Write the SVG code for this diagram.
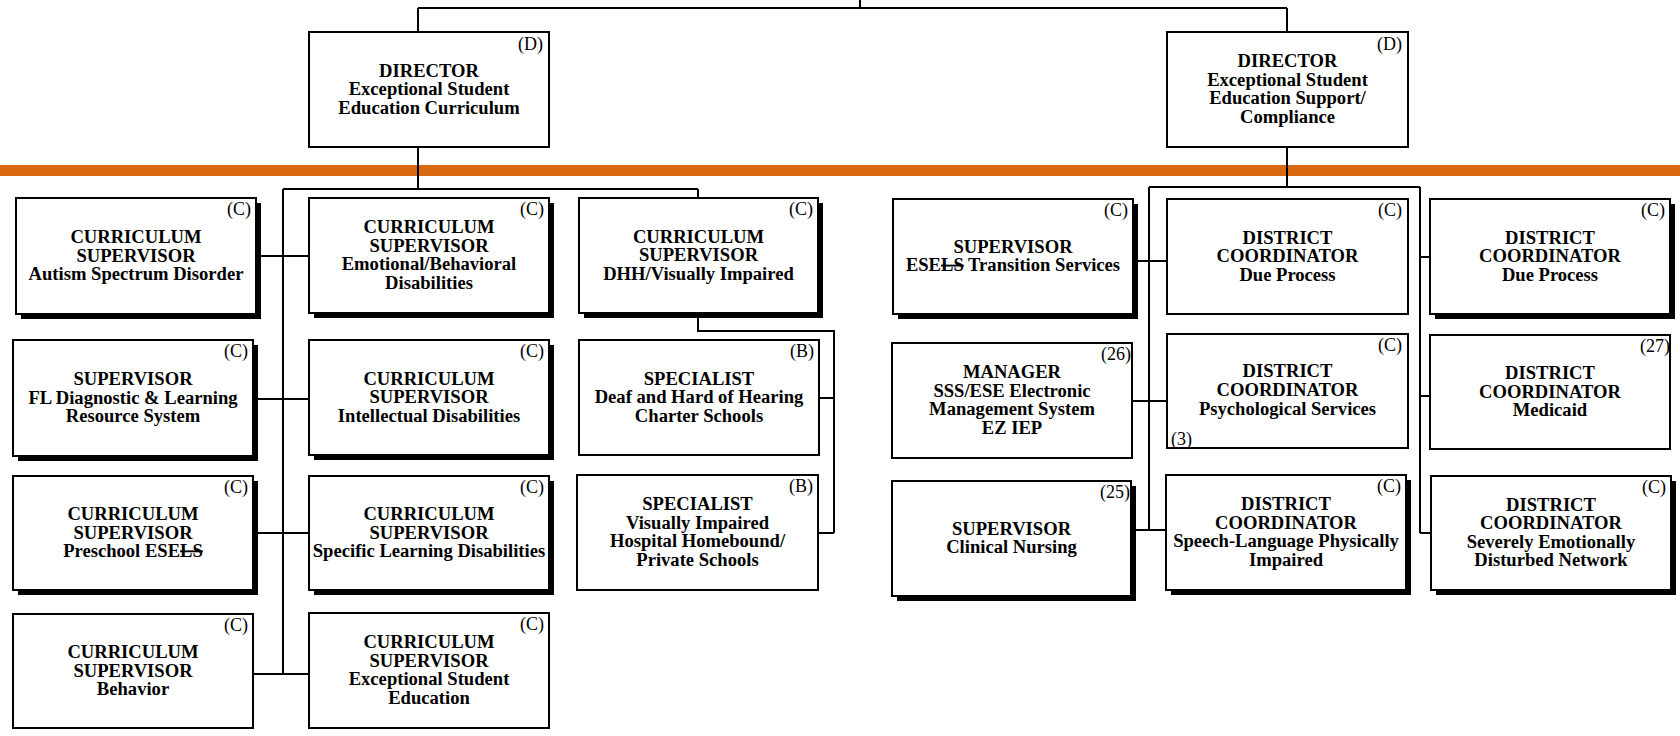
<svg xmlns="http://www.w3.org/2000/svg" width="1680" height="736" viewBox="0 0 1680 736">
<style>
.box{fill:#fff;stroke:#000;stroke-width:2}
.sh{fill:#000}
.t{font-family:"Liberation Serif","Times New Roman",serif;font-weight:bold;font-size:18.6px;text-anchor:middle;fill:#000}
.lab{font-family:"Liberation Serif","Times New Roman",serif;font-size:18px;text-anchor:end;fill:#000}
.labl{font-family:"Liberation Serif","Times New Roman",serif;font-size:18px;text-anchor:start;fill:#000}
.c{stroke:#000;stroke-width:2;fill:none}
.st{text-decoration:line-through}
</style>
<rect x="0" y="0" width="1680" height="736" fill="#fff"/>
<rect id="band" x="0" y="165" width="1680" height="11" fill="#D96A11"/>

<g id="connectors">
<path class="c" d="M860,0 V8 M418,8 H1287 M418,8 V32 M1287,8 V32"/>
<path class="c" d="M418,147 V189 M283,189 H698 M283,189 V674 M698,189 V198"/>
<path class="c" d="M256,256 H309 M253,399 H309 M253,533 H309 M253,674 H309"/>
<path class="c" d="M698,313 V331 H834 V533 M819,398 H834 M818,533 H834"/>
<path class="c" d="M1287,147 V187 M1149,187 H1420 M1149,187 V530 M1420,187 V533"/>
<path class="c" d="M1133,261 H1167 M1132,401 H1167 M1131,530 H1166"/>
<path class="c" d="M1420,257 H1430 M1420,396 H1430 M1420,533 H1431"/>
</g>

<g id="dir-left">
<rect class="box" x="309" y="32" width="240" height="115"/>
<text class="lab" x="543" y="50">(D)</text>
<text class="t"><tspan x="429" y="76.5">DIRECTOR</tspan><tspan x="429" y="95">Exceptional Student</tspan><tspan x="429" y="113.5">Education Curriculum</tspan></text>
</g>
<g id="dir-right">
<rect class="box" x="1167" y="32" width="241" height="115"/>
<text class="lab" x="1402" y="50">(D)</text>
<text class="t"><tspan x="1287.5" y="67.25">DIRECTOR</tspan><tspan x="1287.5" y="85.75">Exceptional Student</tspan><tspan x="1287.5" y="104.25">Education Support/</tspan><tspan x="1287.5" y="122.75">Compliance</tspan></text>
</g>

<g id="autism">
<rect class="sh" x="21" y="203" width="240" height="116"/>
<rect class="box" x="16" y="198" width="240" height="116"/>
<text class="lab" x="251" y="214.5">(C)</text>
<text class="t"><tspan x="136" y="243">CURRICULUM</tspan><tspan x="136" y="261.5">SUPERVISOR</tspan><tspan x="136" y="280">Autism Spectrum Disorder</tspan></text>
</g>
<g id="fldlrs">
<rect class="sh" x="18" y="345" width="240" height="116"/>
<rect class="box" x="13" y="340" width="240" height="116"/>
<text class="lab" x="248" y="356.5">(C)</text>
<text class="t"><tspan x="133" y="385">SUPERVISOR</tspan><tspan x="133" y="403.5">FL Diagnostic &amp; Learning</tspan><tspan x="133" y="422">Resource System</tspan></text>
</g>
<g id="preschool">
<rect class="sh" x="18" y="481" width="240" height="114"/>
<rect class="box" x="13" y="476" width="240" height="114"/>
<text class="lab" x="248" y="492.5">(C)</text>
<text class="t"><tspan x="133" y="520">CURRICULUM</tspan><tspan x="133" y="538.5">SUPERVISOR</tspan><tspan x="133" y="557">Preschool ESE<tspan class="st">LS</tspan></tspan></text>
</g>
<g id="behavior">
<rect class="box" x="13" y="614" width="240" height="114"/>
<text class="lab" x="248" y="630.5">(C)</text>
<text class="t"><tspan x="133" y="658">CURRICULUM</tspan><tspan x="133" y="676.5">SUPERVISOR</tspan><tspan x="133" y="695">Behavior</tspan></text>
</g>

<g id="emotional">
<rect class="sh" x="314" y="203" width="240" height="115"/>
<rect class="box" x="309" y="198" width="240" height="115"/>
<text class="lab" x="544" y="214.5">(C)</text>
<text class="t"><tspan x="429" y="233.25">CURRICULUM</tspan><tspan x="429" y="251.75">SUPERVISOR</tspan><tspan x="429" y="270.25">Emotional/Behavioral</tspan><tspan x="429" y="288.75">Disabilities</tspan></text>
</g>
<g id="intellectual">
<rect class="sh" x="314" y="345" width="240" height="115"/>
<rect class="box" x="309" y="340" width="240" height="115"/>
<text class="lab" x="544" y="356.5">(C)</text>
<text class="t"><tspan x="429" y="384.5">CURRICULUM</tspan><tspan x="429" y="403">SUPERVISOR</tspan><tspan x="429" y="421.5">Intellectual Disabilities</tspan></text>
</g>
<g id="sld">
<rect class="sh" x="314" y="481" width="240" height="114"/>
<rect class="box" x="309" y="476" width="240" height="114"/>
<text class="lab" x="544" y="492.5">(C)</text>
<text class="t"><tspan x="429" y="520">CURRICULUM</tspan><tspan x="429" y="538.5">SUPERVISOR</tspan><tspan x="429" y="557">Specific Learning Disabilities</tspan></text>
</g>
<g id="ese">
<rect class="box" x="309" y="613" width="240" height="115"/>
<text class="lab" x="544" y="629.5">(C)</text>
<text class="t"><tspan x="429" y="648.25">CURRICULUM</tspan><tspan x="429" y="666.75">SUPERVISOR</tspan><tspan x="429" y="685.25">Exceptional Student</tspan><tspan x="429" y="703.75">Education</tspan></text>
</g>

<g id="dhh">
<rect class="sh" x="584" y="203" width="239" height="115"/>
<rect class="box" x="579" y="198" width="239" height="115"/>
<text class="lab" x="813" y="214.5">(C)</text>
<text class="t"><tspan x="698.5" y="242.5">CURRICULUM</tspan><tspan x="698.5" y="261">SUPERVISOR</tspan><tspan x="698.5" y="279.5">DHH/Visually Impaired</tspan></text>
</g>
<g id="spec-dhh">
<rect class="box" x="579" y="340" width="240" height="115"/>
<text class="lab" x="814" y="356.5">(B)</text>
<text class="t"><tspan x="699" y="384.5">SPECIALIST</tspan><tspan x="699" y="403">Deaf and Hard of Hearing</tspan><tspan x="699" y="421.5">Charter Schools</tspan></text>
</g>
<g id="spec-vi">
<rect class="box" x="577" y="475" width="241" height="115"/>
<text class="lab" x="813" y="491.5">(B)</text>
<text class="t"><tspan x="697.5" y="510.25">SPECIALIST</tspan><tspan x="697.5" y="528.75">Visually Impaired</tspan><tspan x="697.5" y="547.25">Hospital Homebound/</tspan><tspan x="697.5" y="565.75">Private Schools</tspan></text>
</g>

<g id="transition">
<rect class="sh" x="898" y="204" width="240" height="115"/>
<rect class="box" x="893" y="199" width="240" height="115"/>
<text class="lab" x="1128" y="215.5">(C)</text>
<text class="t"><tspan x="1013" y="252.75">SUPERVISOR</tspan><tspan x="1013" y="271.25">ESE<tspan class="st">LS</tspan> Transition Services</tspan></text>
</g>
<g id="manager">
<rect class="box" x="892" y="343" width="240" height="115"/>
<text class="lab" x="1131" y="359.5">(26)</text>
<text class="t"><tspan x="1012" y="378.25">MANAGER</tspan><tspan x="1012" y="396.75">SSS/ESE Electronic</tspan><tspan x="1012" y="415.25">Management System</tspan><tspan x="1012" y="433.75">EZ IEP</tspan></text>
</g>
<g id="nursing">
<rect class="sh" x="897" y="486" width="239" height="115"/>
<rect class="box" x="892" y="481" width="239" height="115"/>
<text class="lab" x="1130" y="497.5">(25)</text>
<text class="t"><tspan x="1011.5" y="534.75">SUPERVISOR</tspan><tspan x="1011.5" y="553.25">Clinical Nursing</tspan></text>
</g>

<g id="dueprocess1">
<rect class="box" x="1167" y="199" width="241" height="115"/>
<text class="lab" x="1402" y="215.5">(C)</text>
<text class="t"><tspan x="1287.5" y="243.5">DISTRICT</tspan><tspan x="1287.5" y="262">COORDINATOR</tspan><tspan x="1287.5" y="280.5">Due Process</tspan></text>
</g>
<g id="psych">
<rect class="box" x="1167" y="334" width="241" height="114"/>
<text class="lab" x="1402" y="350.5">(C)</text>
<text class="labl" x="1171" y="445">(3)</text>
<text class="t"><tspan x="1287.5" y="377">DISTRICT</tspan><tspan x="1287.5" y="396">COORDINATOR</tspan><tspan x="1287.5" y="415">Psychological Services</tspan></text>
</g>
<g id="speech">
<rect class="sh" x="1171" y="480" width="240" height="115"/>
<rect class="box" x="1166" y="475" width="240" height="115"/>
<text class="lab" x="1401" y="491.5">(C)</text>
<text class="t"><tspan x="1286" y="510.25">DISTRICT</tspan><tspan x="1286" y="528.75">COORDINATOR</tspan><tspan x="1286" y="547.25">Speech-Language Physically</tspan><tspan x="1286" y="565.75">Impaired</tspan></text>
</g>

<g id="dueprocess2">
<rect class="sh" x="1435" y="204" width="240" height="115"/>
<rect class="box" x="1430" y="199" width="240" height="115"/>
<text class="lab" x="1665" y="215.5">(C)</text>
<text class="t"><tspan x="1550" y="243.5">DISTRICT</tspan><tspan x="1550" y="262">COORDINATOR</tspan><tspan x="1550" y="280.5">Due Process</tspan></text>
</g>
<g id="medicaid">
<rect class="box" x="1430" y="335" width="240" height="114"/>
<text class="lab" x="1670" y="351.5">(27)</text>
<text class="t"><tspan x="1550" y="379">DISTRICT</tspan><tspan x="1550" y="397.5">COORDINATOR</tspan><tspan x="1550" y="416">Medicaid</tspan></text>
</g>
<g id="sednet">
<rect class="sh" x="1436" y="481" width="240" height="114"/>
<rect class="box" x="1431" y="476" width="240" height="114"/>
<text class="lab" x="1666" y="492.5">(C)</text>
<text class="t"><tspan x="1551" y="510.75">DISTRICT</tspan><tspan x="1551" y="529.25">COORDINATOR</tspan><tspan x="1551" y="547.75">Severely Emotionally</tspan><tspan x="1551" y="566.25">Disturbed Network</tspan></text>
</g>
</svg>
